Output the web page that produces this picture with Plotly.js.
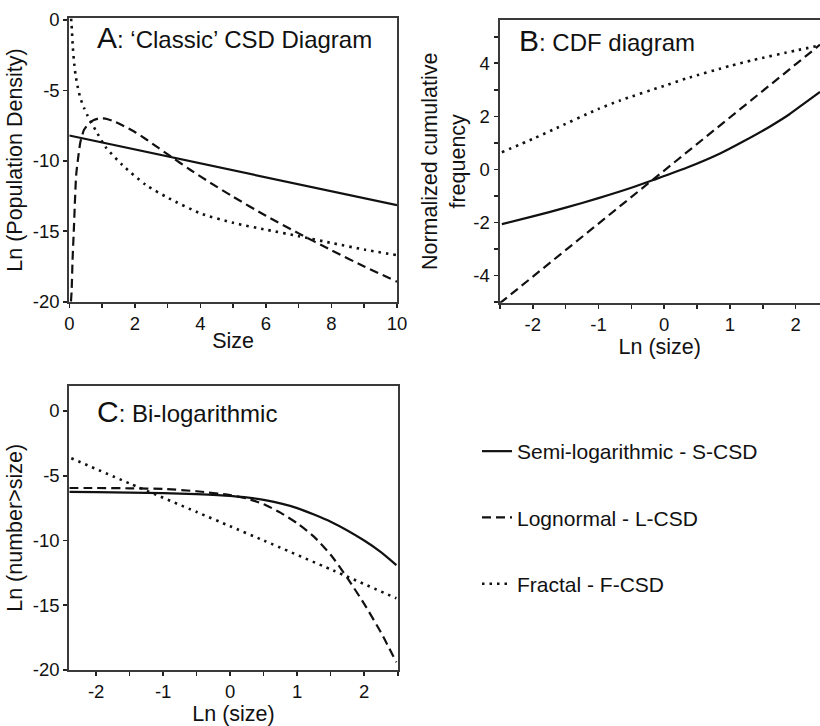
<!DOCTYPE html>
<html>
<head>
<meta charset="utf-8">
<script src="https://cdn.plot.ly/plotly-3.0.1.min.js"></script>
<style>html,body{margin:0;padding:0;background:#fff;}#chart{width:820px;height:726px;}</style>
</head>
<body>
<div id="chart"></div>
<script>
// ---------- Data ----------
// Panel A: 'Classic' CSD diagram (Size vs Ln(population density))
const A_S_x = [0, 10];
const A_S_y = [-8.2, -13.15];
const A_L_x = [0.05, 0.07, 0.1, 0.14, 0.21, 0.28, 0.34, 0.45, 0.6, 0.75, 0.9, 1.1, 1.31, 1.6, 2.0, 2.33, 2.7, 3.04, 3.7, 4.3, 5.0, 6.0, 7.0, 8.0, 9.0, 10];
const A_L_y = [-20, -19.3, -17.0, -14.8, -11.0, -9.6, -8.64, -7.8, -7.34, -7.1, -6.99, -7.0, -7.15, -7.45, -7.95, -8.45, -9.05, -9.6, -10.65, -11.55, -12.55, -13.9, -15.15, -16.35, -17.5, -18.58];
const A_F_x = [0.055, 0.07, 0.11, 0.15, 0.19, 0.26, 0.34, 0.45, 0.55, 0.8, 1.1, 1.62, 2.33, 3.04, 4.0, 5.0, 6.03, 7.0, 8.06, 9.0, 10];
const A_F_y = [0.1, -0.36, -2.0, -3.1, -3.9, -4.8, -5.56, -6.25, -6.75, -7.81, -9.0, -10.3, -11.7, -12.66, -13.73, -14.4, -14.9, -15.35, -15.86, -16.3, -16.7];

// Panel B: CDF diagram (Ln(size) vs normalized cumulative frequency)
const B_S_x = [-2.47, -2.0, -1.5, -1.0, -0.5, -0.17, 0.34, 0.85, 1.2, 1.61, 1.9, 2.11, 2.37];
const B_S_y = [-2.06, -1.77, -1.44, -1.08, -0.69, -0.4, 0.06, 0.6, 1.05, 1.62, 2.07, 2.45, 2.92];
const B_L_x = [-2.5, 2.37];
const B_L_y = [-5.04, 4.7];
const B_F_x = [-2.47, -2.0, -1.69, -1.0, -0.67, 0, 0.34, 1.0, 1.35, 2.0, 2.37];
const B_F_y = [0.65, 1.15, 1.5, 2.28, 2.6, 3.15, 3.43, 3.9, 4.12, 4.48, 4.67];

// Panel C: Bi-logarithmic (Ln(size) vs Ln(number>size))
const C_S_x = [-2.4, -2.0, -1.5, -1.0, -0.5, 0.0, 0.5, 1.0, 1.5, 2.0, 2.25, 2.48];
const C_S_y = [-6.25, -6.27, -6.3, -6.34, -6.42, -6.56, -6.87, -7.5, -8.55, -10.0, -10.9, -11.9];
const C_L_x = [-2.4, -2.0, -1.5, -1.0, -0.5, 0.0, 0.25, 0.5, 0.75, 1.0, 1.25, 1.5, 1.75, 2.0, 2.25, 2.48];
const C_L_y = [-5.95, -5.95, -5.97, -6.02, -6.2, -6.5, -6.76, -7.2, -7.85, -8.67, -9.7, -11.1, -12.9, -14.9, -17.1, -19.4];
const C_F_x = [-2.37, -1.5, -0.5, 0, 0.5, 1.54, 2.48];
const C_F_y = [-3.65, -5.6, -7.8, -8.9, -10.0, -12.32, -14.46];

// Tick labels
const A_xticks = [0, 2, 4, 6, 8, 10];
const A_yticks = [0, -5, -10, -15, -20];
const B_xticks = [-2, -1, 0, 1, 2];
const B_yticks = [-4, -2, 0, 2, 4];
const C_xticks = [-2, -1, 0, 1, 2];
const C_yticks = [0, -5, -10, -15, -20];

const seriesNames = ['Semi-logarithmic - S-CSD', 'Lognormal - L-CSD', 'Fractal - F-CSD'];
const panelTitles = [
  ['A', ': \u2018Classic\u2019 CSD Diagram'],
  ['B', ': CDF diagram'],
  ['C', ': Bi-logarithmic']
];
const axisTitles = {
  ax: 'Size', ay: 'Ln (Population Density)',
  bx: 'Ln (size)', by: 'Normalized cumulative<br>frequency',
  cx: 'Ln (size)', cy: 'Ln (number&gt;size)'
};

// ---------- Styles ----------
const FONT = 'Liberation Sans, Arial, Helvetica, sans-serif';
const INK = '#111';
const styles = [
  {color: INK, width: 2.2, dash: 'solid'},
  {color: INK, width: 2.2, dash: '9px,5px'},
  {color: INK, width: 2.6, dash: '2.5px,5px'}
];

function tr(x, y, i, xa, ya, legend) {
  return {
    x: x, y: y, type: 'scatter', mode: 'lines',
    xaxis: xa, yaxis: ya,
    name: seriesNames[i], legendgroup: 'g' + i, showlegend: legend,
    line: Object.assign({shape: x.length > 2 ? 'spline' : 'linear', smoothing: 0.6}, styles[i]),
    hoverinfo: 'x+y', cliponaxis: true
  };
}

const data = [
  tr(A_S_x, A_S_y, 0, 'x', 'y', true),
  tr(A_L_x, A_L_y, 1, 'x', 'y', true),
  tr(A_F_x, A_F_y, 2, 'x', 'y', true),
  tr(B_S_x, B_S_y, 0, 'x2', 'y2', false),
  tr(B_L_x, B_L_y, 1, 'x2', 'y2', false),
  tr(B_F_x, B_F_y, 2, 'x2', 'y2', false),
  tr(C_S_x, C_S_y, 0, 'x3', 'y3', false),
  tr(C_L_x, C_L_y, 1, 'x3', 'y3', false),
  tr(C_F_x, C_F_y, 2, 'x3', 'y3', false)
];

const W = 820, H = 726;
const px = v => v / W;
const py = v => (H - v) / H;
const TK = {ticklen: 4, tickwidth: 1.6, tickcolor: '#222'};

function axis(ticks, minorStep, o) {
  const base = Object.assign({
    showgrid: false, zeroline: false, showline: true, linecolor: '#3a3a3a', linewidth: 2,
    ticks: 'outside',
    tickfont: {family: FONT, size: 18.5, color: INK},
    tickmode: 'array', tickvals: ticks, ticktext: ticks.map(String),
    automargin: false, fixedrange: true
  }, TK);
  if (minorStep) base.minor = Object.assign({tickmode: 'linear', tick0: 0, dtick: minorStep, ticks: 'outside'}, TK);
  return Object.assign(base, o);
}
function inner(ticks, minorStep, o) {
  const base = Object.assign({
    showgrid: false, zeroline: false, showline: false, showticklabels: false,
    ticks: 'inside', tickmode: 'array', tickvals: ticks,
    automargin: false, fixedrange: true
  }, TK);
  if (minorStep) base.minor = Object.assign({tickmode: 'linear', tick0: 0, dtick: minorStep, ticks: 'inside'}, TK);
  return Object.assign(base, o);
}

const Adom = {x: [px(69.3), px(397)], y: [py(301.7), py(18.3)]};
const Bdom = {x: [px(499.5), 1], y: [py(302.7), py(20)]};
const Cdom = {x: [px(69.3), px(397.7)], y: [py(670), py(385.7)]};
const Ar = {x: [0, 10], y: [-20, 0.12]};
const Br = {x: [-2.506, 2.37], y: [-5.02, 5.63]};
const Cr = {x: [-2.4, 2.5], y: [-20, 1.95]};

const titleFont = {family: FONT, size: 21.5, color: INK};
const panelFont = {family: FONT, size: 24, color: INK};
const big = s => '<span style="font-size:30px">' + s + '</span>';

const layout = {
  width: W, height: H,
  margin: {l: 0, r: 0, t: 0, b: 0},
  paper_bgcolor: '#fff', plot_bgcolor: '#fff',
  font: {family: FONT, color: INK},
  showlegend: true,
  legend: {
    x: px(477), y: py(431), xanchor: 'left', yanchor: 'top',
    font: {family: FONT, size: 21, color: INK},
    traceorder: 'grouped', tracegroupgap: 36,
    bgcolor: 'rgba(0,0,0,0)', borderwidth: 0
  },
  xaxis: axis(A_xticks, 1, {domain: Adom.x, range: Ar.x, anchor: 'y', mirror: true,
    title: {text: axisTitles.ax, font: titleFont, standoff: 0}}),
  yaxis: axis(A_yticks, 0, {domain: Adom.y, range: Ar.y, anchor: 'x', mirror: true,
    title: {text: axisTitles.ay, font: titleFont, standoff: 4}}),
  xaxis2: axis(B_xticks, 0.5, {domain: Bdom.x, range: Br.x, anchor: 'y2', mirror: true,
    title: {text: axisTitles.bx, font: titleFont, standoff: 0}}),
  yaxis2: axis(B_yticks, 1, {domain: Bdom.y, range: Br.y, anchor: 'x2', mirror: false,
    title: {text: axisTitles.by, font: titleFont, standoff: 2}}),
  xaxis3: axis(C_xticks, 0.5, {domain: Cdom.x, range: Cr.x, anchor: 'y3', mirror: true,
    title: {text: axisTitles.cx, font: titleFont, standoff: 5}}),
  yaxis3: axis(C_yticks, 0, {domain: Cdom.y, range: Cr.y, anchor: 'x3', mirror: true,
    title: {text: axisTitles.cy, font: titleFont, standoff: 4}}),
  // inside halves of the crossing ticks
  xaxis4: inner(A_xticks, 1, {overlaying: 'x', anchor: 'y', range: Ar.x}),
  yaxis4: inner(A_yticks, 0, {overlaying: 'y', anchor: 'x', range: Ar.y}),
  xaxis5: inner(B_xticks, 0.5, {overlaying: 'x2', anchor: 'y2', range: Br.x}),
  yaxis5: inner(B_yticks, 1, {overlaying: 'y2', anchor: 'x2', range: Br.y}),
  xaxis6: inner(C_xticks, 0.5, {overlaying: 'x3', anchor: 'y3', range: Cr.x}),
  yaxis6: inner(C_yticks, 0, {overlaying: 'y3', anchor: 'x3', range: Cr.y}),
  annotations: [
    {xref: 'paper', yref: 'paper', x: px(95), y: py(38), xanchor: 'left', yanchor: 'middle',
     showarrow: false, font: panelFont, text: big(panelTitles[0][0]) + panelTitles[0][1]},
    {xref: 'paper', yref: 'paper', x: px(517), y: py(40), xanchor: 'left', yanchor: 'middle',
     showarrow: false, font: panelFont, text: big(panelTitles[1][0]) + panelTitles[1][1]},
    {xref: 'paper', yref: 'paper', x: px(95), y: py(412), xanchor: 'left', yanchor: 'middle',
     showarrow: false, font: panelFont, text: big(panelTitles[2][0]) + panelTitles[2][1]}
  ]
};

Plotly.newPlot('chart', data, layout, {staticPlot: true, displayModeBar: false});
</script>
</body>
</html>
